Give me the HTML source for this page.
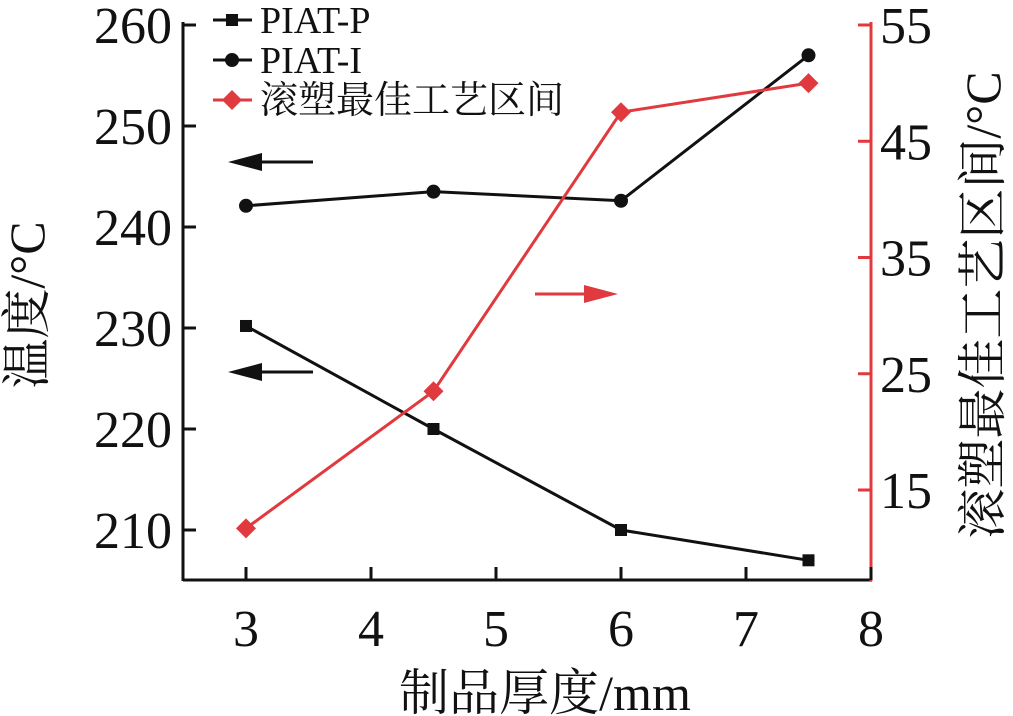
<!DOCTYPE html>
<html><head><meta charset="utf-8"><style>
html,body{margin:0;padding:0;background:#fff;}
svg{display:block;font-family:"Liberation Serif","Noto Serif CJK SC",serif;}
</style></head><body>
<svg width="1013" height="716" viewBox="0 0 1013 716">
<g id="axes"></g><g id="series"></g><g id="legend"></g>
</svg>
<script>
const categories=[3,4.5,6,7.5];
const piatP=[230.2,220,210,207];
const piatI=[242.1,243.5,242.6,257];
const window_=[11.7,23.5,47.5,50];
const xTicks=[3,4,5,6,7,8];
const yLeftTicks=[210,220,230,240,250,260];
const yRightTicks=[15,25,35,45,55];
const RED="#e0393e";
const NS="http://www.w3.org/2000/svg";
const X=v=>246+(v-3)*125;
const YL=v=>530-(v-210)*10.1;
const YR=v=>490-(v-15)*11.625;
function el(t,a,p){const e=document.createElementNS(NS,t);for(const k in a)e.setAttribute(k,a[k]);p.appendChild(e);return e;}
const ax=document.getElementById('axes'),se=document.getElementById('series'),lg=document.getElementById('legend');
let e=el('line',{x1:183,y1:580,x2:872,y2:580,stroke:'#111','stroke-width':3},ax);

e=el('line',{x1:183,y1:22,x2:183,y2:581,stroke:'#111','stroke-width':3},ax);

e=el('line',{x1:871,y1:22,x2:871,y2:581,stroke:RED,'stroke-width':3},ax);

xTicks.forEach(v=>{el('line',{x1:X(v),y1:580,x2:X(v),y2:567,stroke:'#111','stroke-width':3},ax);
 const t=el('text',{x:X(v),y:646,'text-anchor':'middle','font-size':52,fill:'#111'},ax);t.textContent=v;
 });
yLeftTicks.forEach(v=>{el('line',{x1:183,y1:YL(v),x2:196,y2:YL(v),stroke:'#111','stroke-width':3},ax);
 const t=el('text',{x:172,y:YL(v)+18,'text-anchor':'end','font-size':52,fill:'#111'},ax);t.textContent=v;
 });
yRightTicks.forEach(v=>{el('line',{x1:871,y1:YR(v),x2:858,y2:YR(v),stroke:RED,'stroke-width':3},ax);
 const t=el('text',{x:880,y:YR(v)+18,'text-anchor':'start','font-size':52,fill:'#111'},ax);t.textContent=v;
 });
e=el('text',{x:545,y:710,'text-anchor':'middle','font-size':50,fill:'#111'},ax);e.textContent='制品厚度/mm';

e=el('text',{x:0,y:0,'text-anchor':'middle','font-size':50,fill:'#111',transform:'translate(44,305) rotate(-90)'},ax);e.textContent='温度/°C';

e=el('text',{x:0,y:0,'text-anchor':'middle','font-size':50,fill:'#111',transform:'translate(1000,305) rotate(-90)'},ax);e.textContent='滚塑最佳工艺区间/°C';

function arrow(x1,x2,y,c,name){const g=el('g',{},ax);
 const d=x2>x1?1:-1;el('line',{x1:x1,y1:y,x2:x2-d*30,y2:y,stroke:c,'stroke-width':3},g);
 el('polygon',{points:`${x2},${y} ${x2-d*34},${y-9} ${x2-d*34},${y+9}`,fill:c},g);}
arrow(313,228,162,'#111','left-arrow-piat-i');
arrow(313,228,372,'#111','left-arrow-piat-p');
arrow(535,618,294,RED,'right-arrow-window');
function marker(type,x,y,c,g){
 if(type==='sq')return el('rect',{x:x-6,y:y-6,width:12,height:12,fill:c},g);
 if(type==='ci')return el('circle',{cx:x,cy:y,r:7,fill:c},g);
 return el('polygon',{points:`${x},${y-10} ${x+10},${y} ${x},${y+10} ${x-10},${y}`,fill:c},g);}
function series(vals,Y,c,type,name){const g=el('g',{},se);
 el('polyline',{points:vals.map((v,i)=>X(categories[i])+','+Y(v)).join(' '),fill:'none',stroke:c,'stroke-width':3},g);
 vals.forEach((v,i)=>{const m=marker(type,X(categories[i]),Y(v),c,g);});}
series(piatP,YL,'#111','sq','series-piat-p');
series(piatI,YL,'#111','ci','series-piat-i');
series(window_,YR,RED,'di','series-process-window');
[['PIAT-P','#111','sq',20],['PIAT-I','#111','ci',60],['滚塑最佳工艺区间',RED,'di',100]].forEach(r=>{
 const g=el('g',{},lg);
 el('line',{x1:213,y1:r[3],x2:252,y2:r[3],stroke:r[1],'stroke-width':3},g);marker(r[2],232,r[3],r[1],g);
 const t=el('text',{x:260,y:r[3]+13,'font-size':38,fill:'#111'},g);t.textContent=r[0];});
</script>
</body></html>
